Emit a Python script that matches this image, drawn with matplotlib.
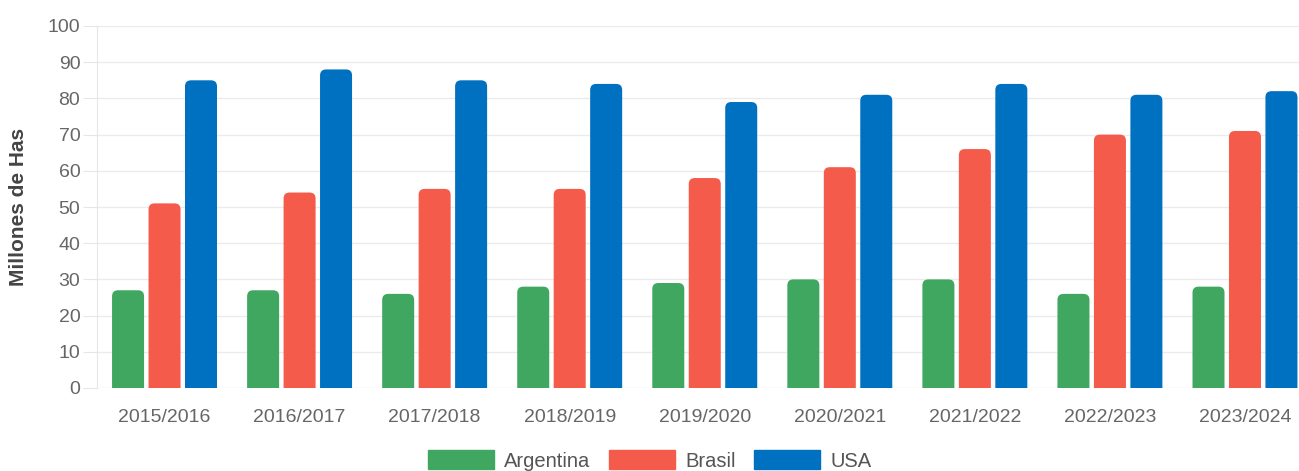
import matplotlib
matplotlib.use("Agg")
import matplotlib.pyplot as plt
from matplotlib.patches import FancyBboxPatch
import numpy as np

plt.rcParams['font.family'] = ['Liberation Sans', 'DejaVu Sans']

campaigns = ["2015/2016", "2016/2017", "2017/2018", "2018/2019", "2019/2020",
             "2020/2021", "2021/2022", "2022/2023", "2023/2024"]
argentina = [27, 27, 26, 28, 29, 30, 30, 26, 28]
brasil = [51, 54, 55, 55, 58, 61, 66, 70, 71]
usa = [85, 88, 85, 84, 79, 81, 84, 81, 82]

series = [("Argentina", argentina, "#3fa75f"),
          ("Brasil", brasil, "#f45b4b"),
          ("USA", usa, "#0071c1")]

fig = plt.figure(figsize=(12.99, 4.71), dpi=100)
ax = fig.add_axes([97 / 1299, 1 - 388 / 471, 1 - 97 / 1299, (388 - 26) / 471])

xmin, xmax = -0.5, 8.4
ax.set_xlim(xmin, xmax)
ax.set_ylim(0, 100)

# pixel scale for rounded tops
px_x = 1202 / (xmax - xmin)
px_y = 362 / 100
aspect = px_x / px_y
radius = 6 / px_x

x = np.arange(len(campaigns))
width = 0.237
offset = 0.27
for i, (name, vals, color) in enumerate(series):
    bars = ax.bar(x + (i - 1) * offset, vals, width, color=color, label=name)
    for b in bars:
        b.set_visible(False)
        p = FancyBboxPatch((b.get_x(), -5), b.get_width(), b.get_height() + 5,
                           boxstyle=f"round,pad=0,rounding_size={radius}",
                           mutation_aspect=aspect, facecolor=color,
                           edgecolor="none", zorder=3)
        ax.add_patch(p)

ax.set_yticks(np.arange(0, 101, 10))
ax.set_xticks(x)
ax.set_xticklabels(campaigns)
ax.grid(axis="y", color="#ebebeb", linewidth=1, zorder=0)
ax.set_axisbelow(True)
for s in ["top", "right", "bottom"]:
    ax.spines[s].set_visible(False)
ax.spines["left"].set_color("#e6e6e6")
ax.tick_params(axis="y", colors="#e6e6e6", length=10, pad=2, labelsize=14,
               labelcolor="#666666")
ax.tick_params(axis="x", length=0, pad=15, labelsize=14, labelcolor="#666666")
ax.set_ylabel("Millones de Has", fontsize=15, fontweight="bold", color="#444444",
              labelpad=14)

leg_handles = [plt.Rectangle((0, 0), 1, 1, color=c) for _, _, c in series]
fig.legend(leg_handles, [n for n, _, _ in series], loc="upper center",
           bbox_to_anchor=(0.50, 1 - 432 / 471), ncol=3, frameon=False,
           fontsize=14.5, handlelength=3.3, handleheight=1.1,
           handletextpad=0.5, columnspacing=0.9, labelcolor="#555555")

fig.savefig("out.png", dpi=100)
